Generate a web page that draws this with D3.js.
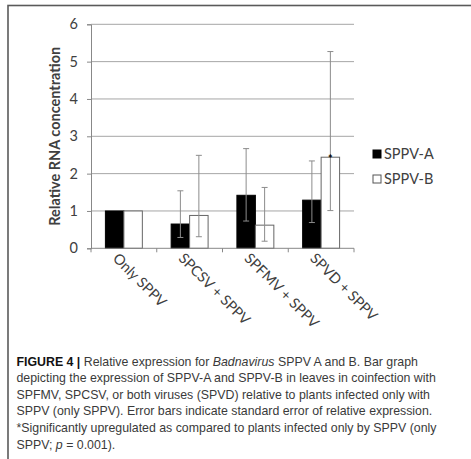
<!DOCTYPE html>
<html>
<head>
<meta charset="utf-8">
<script src="https://cdn.jsdelivr.net/npm/d3@7"></script>
<style>
  body { margin: 0; background: #fff; }
  svg { display: block; }
</style>
</head>
<body>
<div id="app"></div>
<script>
// values
const categories = ['Only SPPV', 'SPCSV + SPPV', 'SPFMV + SPPV', 'SPVD + SPPV'];
const seriesNames = ['SPPV-A', 'SPPV-B'];
const sppvA = [1, 0.65, 1.42, 1.29];
const sppvB = [1, 0.88, 0.62, 2.44];
// error bar low / high ends (null = none drawn)
const errA = [null, [0.29, 1.54], [0.73, 2.67], [0.69, 2.34]];
const errB = [null, [0.31, 2.49], [0.19, 1.63], [1.01, 5.27]];
const significant = [null, null, null, 'SPPV-B'];
const yTicks = [0, 1, 2, 3, 4, 5, 6];
const yLabel = 'Relative RNA concentration';

const caption = [
  [['FIGURE 4 | ', 'b'], ['Relative expression for ', ''], ['Badnavirus', 'i'], [' SPPV A and B. Bar graph', '']],
  [['depicting the expression of SPPV-A and SPPV-B in leaves in coinfection with', '']],
  [['SPFMV, SPCSV, or both viruses (SPVD) relative to plants infected only with', '']],
  [['SPPV (only SPPV). Error bars indicate standard error of relative expression.', '']],
  [['*Significantly upregulated as compared to plants infected only by SPPV (only', '']],
  [['SPPV; ', ''], ['p', 'i'], [' = 0.001).', '']]
];

const width = 471, height = 459;
const plot = { left: 91, right: 354, top: 24.3, bottom: 248.3 };
const chartFont = 'Lato, "Open Sans", sans-serif';
const chartSize = 14.5;
const textColor = '#404040';

const svg = d3.select('#app').append('svg')
  .attr('width', width)
  .attr('height', height);

// outer frame of the figure
svg.append('rect')
  .attr('x', 8).attr('y', 5.5)
  .attr('width', 500).attr('height', 500)
  .attr('fill', 'none')
  .attr('stroke', '#5a5a5a')
  .attr('stroke-width', 1.6);

const x = d3.scaleBand().domain(categories).range([plot.left, plot.right]);
const xInner = d3.scaleBand().domain(seriesNames).range([0, x.bandwidth()]).paddingOuter(0.78);
const y = d3.scaleLinear().domain([0, 6]).range([plot.bottom, plot.top]);

// gridlines
svg.append('g')
  .selectAll('line')
  .data(yTicks.filter(d => d > 0))
  .join('line')
  .attr('x1', plot.left).attr('x2', plot.right)
  .attr('y1', d => y(d)).attr('y2', d => y(d))
  .attr('stroke', '#a6a6a6').attr('stroke-width', 1);

// y axis
const yAxis = svg.append('g')
  .attr('transform', `translate(${plot.left},0)`)
  .call(d3.axisLeft(y).tickValues(yTicks).tickSize(4).tickPadding(9).tickFormat(d3.format('d')));
yAxis.select('.domain').attr('stroke', '#888');
yAxis.selectAll('.tick line').attr('stroke', '#888');
yAxis.selectAll('.tick text')
  .attr('font-family', chartFont)
  .attr('font-size', chartSize)
  .attr('fill', textColor);

svg.append('text')
  .attr('transform', `translate(60,${(plot.top + plot.bottom) / 2}) rotate(-90)`)
  .attr('text-anchor', 'middle')
  .attr('font-family', chartFont)
  .attr('font-size', chartSize)
  .attr('font-weight', 'bold')
  .attr('fill', textColor)
  .text(yLabel);

// bars
const rows = categories.map((c, i) => ({
  cat: c,
  values: [
    { name: 'SPPV-A', v: sppvA[i], err: errA[i] },
    { name: 'SPPV-B', v: sppvB[i], err: errB[i] }
  ]
}));

const groups = svg.append('g')
  .selectAll('g')
  .data(rows)
  .join('g')
  .attr('transform', d => `translate(${x(d.cat)},0)`);

groups.selectAll('rect')
  .data(d => d.values)
  .join('rect')
  .attr('x', d => xInner(d.name))
  .attr('width', xInner.bandwidth())
  .attr('y', d => y(d.v))
  .attr('height', d => y(0) - y(d.v))
  .attr('fill', d => d.name === 'SPPV-A' ? '#000' : '#fff')
  .attr('stroke', d => d.name === 'SPPV-A' ? '#000' : '#666')
  .attr('stroke-width', 1);

// error bars
const eb = groups.selectAll('g.err')
  .data(d => d.values.filter(v => v.err))
  .join('g')
  .attr('class', 'err')
  .attr('stroke', '#8c8c8c')
  .attr('stroke-width', 1);
const cx = d => xInner(d.name) + xInner.bandwidth() / 2;
eb.append('line')
  .attr('x1', cx).attr('x2', cx)
  .attr('y1', d => y(d.err[0])).attr('y2', d => y(d.err[1]));
eb.append('line')
  .attr('x1', d => cx(d) - 3).attr('x2', d => cx(d) + 3)
  .attr('y1', d => y(d.err[0])).attr('y2', d => y(d.err[0]));
eb.append('line')
  .attr('x1', d => cx(d) - 3).attr('x2', d => cx(d) + 3)
  .attr('y1', d => y(d.err[1])).attr('y2', d => y(d.err[1]));

// significance star
groups.each(function (d, i) {
  if (!significant[i]) return;
  const v = d.values.find(s => s.name === significant[i]);
  d3.select(this).append('text')
    .attr('x', cx(v))
    .attr('y', y(v.v) + 6)
    .attr('text-anchor', 'middle')
    .attr('font-family', chartFont)
    .attr('font-size', 11)
    .attr('font-weight', 'bold')
    .attr('fill', '#000')
    .text('*');
});

// x axis
const xAxis = svg.append('g')
  .attr('transform', `translate(0,${plot.bottom})`);
xAxis.append('line')
  .attr('x1', plot.left).attr('x2', plot.right)
  .attr('stroke', '#888');
xAxis.selectAll('line.tick')
  .data(categories.concat(['end']))
  .join('line')
  .attr('class', 'tick')
  .attr('x1', (d, i) => plot.left + i * x.step())
  .attr('x2', (d, i) => plot.left + i * x.step())
  .attr('y1', 0).attr('y2', 4)
  .attr('stroke', '#888');
xAxis.selectAll('text')
  .data(categories)
  .join('text')
  .attr('transform', d => `translate(${x(d) + x.bandwidth() / 2 - 12},11) rotate(45)`)
  .attr('font-family', chartFont)
  .attr('font-size', chartSize)
  .attr('fill', textColor)
  .text(d => d);

// legend
const legend = svg.append('g')
  .attr('transform', 'translate(373,150)');
const li = legend.selectAll('g')
  .data(seriesNames)
  .join('g')
  .attr('transform', (d, i) => `translate(0,${i * 25})`);
li.append('rect')
  .attr('width', 8).attr('height', 8)
  .attr('fill', (d, i) => i === 0 ? '#000' : '#fff')
  .attr('stroke', (d, i) => i === 0 ? '#000' : '#555')
  .attr('stroke-width', 1);
li.append('text')
  .attr('x', 11).attr('y', 9)
  .attr('font-family', chartFont)
  .attr('font-size', chartSize)
  .attr('fill', textColor)
  .text(d => d);

// caption
const cap = svg.append('g')
  .attr('font-family', '"Liberation Sans", Arial, sans-serif')
  .attr('font-size', 12.35)
  .attr('fill', '#3a3a3a');
caption.forEach((line, i) => {
  const t = cap.append('text')
    .attr('x', 16.5)
    .attr('y', 365.5 + i * 16.6);
  line.forEach(([s, style]) => {
    t.append('tspan')
      .attr('font-weight', style === 'b' ? 'bold' : null)
      .attr('font-style', style === 'i' ? 'italic' : null)
      .attr('fill', style === 'b' ? '#111' : null)
      .text(s);
  });
});
</script>
</body>
</html>
